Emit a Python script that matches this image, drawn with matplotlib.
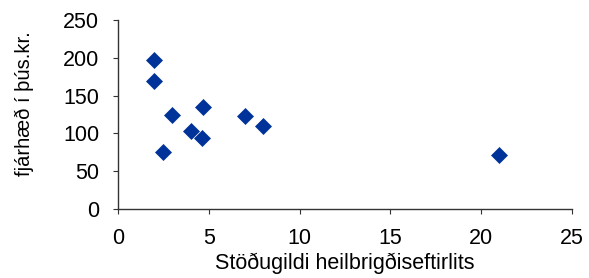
import matplotlib
matplotlib.use('Agg')
import matplotlib.pyplot as plt

plt.rcParams['font.family'] = ['Liberation Sans', 'DejaVu Sans']

# Stöðugildi vs fjárhæð
stodugildi = [2, 2, 2.5, 3, 4, 4.6, 4.7, 7, 8, 21]
fjarhaed = [197, 169, 75, 124, 103, 94, 135, 123, 110, 71]

fig = plt.figure(figsize=(5.89, 2.78), dpi=100)
ax = fig.add_axes([118/589, 69/278, 454/589, 189/278])

ax.scatter(stodugildi, fjarhaed, marker='D', s=75, color='#003399', linewidths=0, zorder=3)

ax.set_xlim(0, 25)
ax.set_ylim(0, 250)
ax.set_xticks([0, 5, 10, 15, 20, 25])
ax.set_yticks([0, 50, 100, 150, 200, 250])
ax.spines['top'].set_visible(False)
ax.spines['right'].set_visible(False)
for s in ['left', 'bottom']:
    ax.spines[s].set_color('#333333')
    ax.spines[s].set_linewidth(1)
ax.tick_params(labelsize=15.5, length=3.6, color='#333333')
ax.tick_params(axis='x', pad=10)
ax.tick_params(axis='y', pad=10)
ax.set_xlabel('Stöðugildi heilbrigðiseftirlits', fontsize=15.5, labelpad=3)
ax.set_ylabel('fjárhæð í þús.kr.', fontsize=14.5)
ax.yaxis.set_label_coords(-0.185, 0.558)

fig.savefig('out.png', dpi=100)
